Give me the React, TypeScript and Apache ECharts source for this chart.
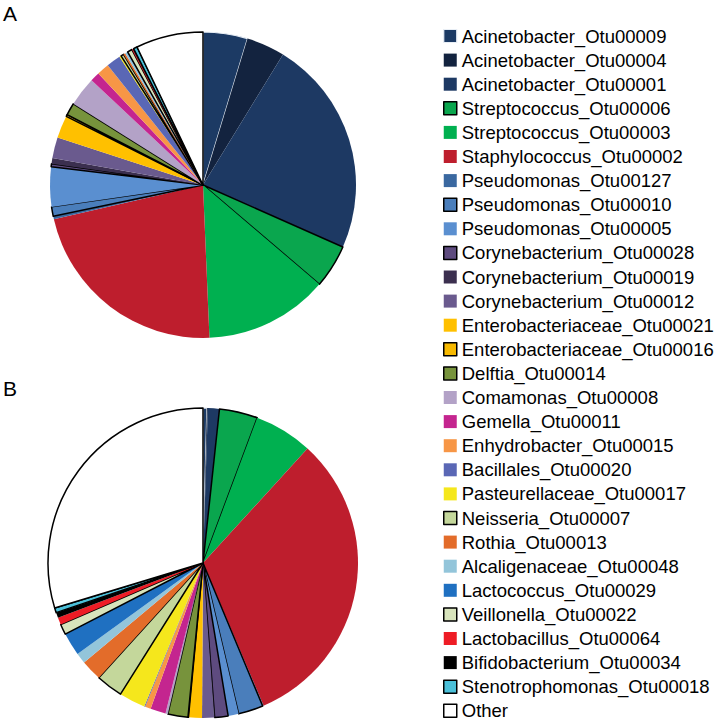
import React, { useEffect, useRef } from "react";
import * as echarts from "echarts";

const names = [
  "Acinetobacter_Otu00009",
  "Acinetobacter_Otu00004",
  "Acinetobacter_Otu00001",
  "Streptococcus_Otu00006",
  "Streptococcus_Otu00003",
  "Staphylococcus_Otu00002",
  "Pseudomonas_Otu00127",
  "Pseudomonas_Otu00010",
  "Pseudomonas_Otu00005",
  "Corynebacterium_Otu00028",
  "Corynebacterium_Otu00019",
  "Corynebacterium_Otu00012",
  "Enterobacteriaceae_Otu00021",
  "Enterobacteriaceae_Otu00016",
  "Delftia_Otu00014",
  "Comamonas_Otu00008",
  "Gemella_Otu00011",
  "Enhydrobacter_Otu00015",
  "Bacillales_Otu00020",
  "Pasteurellaceae_Otu00017",
  "Neisseria_Otu00007",
  "Rothia_Otu00013",
  "Alcaligenaceae_Otu00048",
  "Lactococcus_Otu00029",
  "Veillonella_Otu00022",
  "Lactobacillus_Otu00064",
  "Bifidobacterium_Otu00034",
  "Stenotrophomonas_Otu00018",
  "Other",
];

const valuesA = [
  4.7, 4.06, 22.9, 4.6, 13.1, 22.1, 0.3, 1.0, 4.2, 0.3, 0.6, 2.2, 2.4, 0.2, 1.3,
  3.1, 1.0, 1.3, 1.5, 0.2, 0.3, 0.2, 0.2, 0.1, 0.5, 0.1, 0.1, 0.4, 7.1,
];

const valuesB = [
  0.4, 0.1, 1.2, 4.0, 6.1, 31.9, 0.1, 2.6, 1.1, 1.4, 0.05, 1.25, 1.4, 0.05, 2.1,
  0.25, 1.6, 0.6, 0.1, 2.75, 2.8, 2.2, 1.1, 2.4, 1.1, 0.75, 0.55, 0.5, 29.75,
];

const colors = [
  "#1c3a64", "#13233f", "#1d3963", "#0aa64e", "#00b050", "#be1e2d",
  "#3a68a0", "#4a7ebb", "#5a8fd0", "#5e4b7f", "#3b2f4f", "#6a5a8e",
  "#ffc000", "#f7b900", "#77933c", "#b3a2c7", "#c4258f", "#f79646",
  "#5a67b5", "#f5e71c", "#c4d79b", "#e36c2a", "#93c5da", "#1f70c1",
  "#d8e4bc", "#ee1c25", "#000000", "#4bc0d9", "#ffffff",
];

// border style per category: "black", "white" or "none"
const borders = [
  "white", "none", "none", "black", "none", "none", "none", "black", "none",
  "black", "none", "none", "none", "black", "black", "none", "none", "none",
  "none", "none", "black", "none", "none", "none", "black", "none", "none",
  "black", "black",
];

function styleFor(i: number) {
  const b = borders[i];
  if (b === "black") return { color: colors[i], borderColor: "#000000", borderWidth: 1.5 };
  if (b === "white") return { color: colors[i], borderColor: "#e8eef5", borderWidth: 1.2 };
  return { color: colors[i], borderWidth: 0 };
}

export default function App() {
  const ref = useRef<HTMLDivElement>(null);
  useEffect(() => {
    document.body.style.margin = "0";
    if (!ref.current) return;
    const chart = echarts.init(ref.current, undefined, { renderer: "svg" });
    const mk = (vals: number[]) =>
      names.map((n, i) => ({ name: n, value: vals[i], itemStyle: styleFor(i) }));
    chart.setOption({
      animation: false,
      backgroundColor: "#ffffff",
      graphic: [
        {
          type: "text",
          left: 3,
          top: 3,
          style: { text: "A", fontSize: 21, fontFamily: "Liberation Sans, Arial, sans-serif", fill: "#000" },
        },
        {
          type: "text",
          left: 3,
          top: 378,
          style: { text: "B", fontSize: 21, fontFamily: "Liberation Sans, Arial, sans-serif", fill: "#000" },
        },
      ],
      legend: {
        orient: "vertical",
        left: 443,
        top: 26.5,
        padding: 0,
        itemWidth: 13,
        itemHeight: 13,
        itemGap: 5.1,
        icon: "rect",
        selectedMode: false,
        textStyle: {
          fontSize: 18.5,
          color: "#000",
          fontFamily: "Liberation Sans, Arial, sans-serif",
        },
        data: names.map((n, i) => ({ name: n, itemStyle: styleFor(i) })),
      },
      series: [
        {
          type: "pie",
          name: "A",
          center: [203, 185],
          radius: [0, 153],
          startAngle: 90,
          clockwise: true,
          label: { show: false },
          labelLine: { show: false },
          emphasis: { disabled: true },
          data: mk(valuesA),
        },
        {
          type: "pie",
          name: "B",
          center: [203, 563],
          radius: [0, 155],
          startAngle: 90,
          clockwise: true,
          label: { show: false },
          labelLine: { show: false },
          emphasis: { disabled: true },
          data: mk(valuesB),
        },
      ],
    });
    return () => chart.dispose();
  }, []);
  return <div ref={ref} style={{ width: 716, height: 722 }} />;
}
